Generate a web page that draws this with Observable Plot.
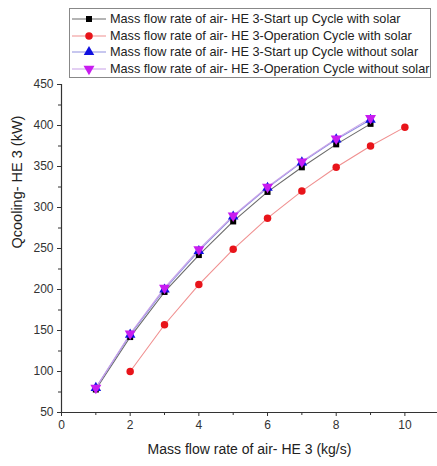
<!DOCTYPE html>
<html>
<head>
<meta charset="utf-8">
<script src="https://cdn.jsdelivr.net/npm/d3@7"></script>
<script src="https://cdn.jsdelivr.net/npm/@observablehq/plot@0.6"></script>
<style>
  html, body { margin: 0; padding: 0; background: #fff; }
  #wrap { position: relative; width: 437px; height: 466px; font-family: "Liberation Sans", Arial, sans-serif; }
  #legend { position: absolute; left: 69px; top: 8px; width: 362px; height: 70px; border: 1px solid #888; background: #fff; box-sizing: border-box; padding-top: 2px; }
  .row { display: flex; align-items: center; height: 16.5px; font-size: 12.7px; color: #222; white-space: nowrap; }
  .row svg { flex: none; margin-left: 2px; margin-right: 4px; }
</style>
</head>
<body>
<div id="wrap"></div>
<script>
const startWithSolarX = [1, 2, 3, 4, 5, 6, 7, 8, 9];
const startWithSolar = [78, 142, 197, 242, 283, 319, 349, 377, 402];
const operWithSolarX = [2, 3, 4, 5, 6, 7, 8, 9, 10];
const operWithSolar = [100, 157, 206, 249, 287, 320, 349, 375, 398];
const startNoSolarX = [1, 2, 3, 4, 5, 6, 7, 8, 9];
const startNoSolar = [80, 145, 200, 247, 289, 324, 355, 383, 407];
const operNoSolarX = [1, 2, 3, 4, 5, 6, 7, 8, 9];
const operNoSolar = [80, 146, 202, 249, 290, 325, 356, 384, 409];
const seriesNames = [
  "Mass flow rate of air- HE 3-Start up Cycle with solar",
  "Mass flow rate of air- HE 3-Operation Cycle with solar",
  "Mass flow rate of air- HE 3-Start up Cycle without solar",
  "Mass flow rate of air- HE 3-Operation Cycle without solar"
];
const xTicks = [0, 2, 4, 6, 8, 10];
const xMinor = [1, 3, 5, 7, 9];
const yTicks = [50, 100, 150, 200, 250, 300, 350, 400, 450];
const yMinor = [75, 125, 175, 225, 275, 325, 375, 425];
const xTitle = "Mass flow rate of air- HE 3 (kg/s)";
const yTitle = "Qcooling- HE 3 (kW)";

const colors = ["#000000", "#e8141a", "#1010e0", "#c81cf0"];
const lineColors = ["#6a6a6a", "#f09090", "#9090e0", "#c8a0e8"];

const triangleDown = {
  draw(ctx, size) {
    const y = -Math.sqrt(size / (Math.sqrt(3) * 3));
    const s3 = Math.sqrt(3);
    ctx.moveTo(0, -y * 2);
    ctx.lineTo(-s3 * y, y);
    ctx.lineTo(s3 * y, y);
    ctx.closePath();
  }
};
const symbols = [d3.symbolSquare, d3.symbolCircle, d3.symbolTriangle, triangleDown];
const sizes = [36, 44, 48, 52];

const xs = [startWithSolarX, operWithSolarX, startNoSolarX, operNoSolarX];
const ys = [startWithSolar, operWithSolar, startNoSolar, operNoSolar];
const series = ys.map((vals, i) => vals.map((v, j) => ({x: xs[i][j], y: v, s: i})));

const marks = [];
series.forEach((d, i) => {
  marks.push(Plot.line(d, {x: "x", y: "y", stroke: lineColors[i], strokeWidth: 1.1, curve: "linear"}));
});
series.forEach((d, i) => {
  marks.push(Plot.dot(d, {x: "x", y: "y", symbol: () => symbols[i], r: Math.sqrt(sizes[i] / Math.PI), fill: colors[i], stroke: "none"}));
});

const chart = Plot.plot({
  width: 437,
  height: 466,
  marginTop: 84,
  marginBottom: 54,
  marginLeft: 61,
  marginRight: 0,
  style: {fontFamily: "'Liberation Sans', Arial, sans-serif", color: "#222", background: "#fff"},
  x: {domain: [0, 10.95]},
  y: {domain: [50, 450]},
  symbol: {type: "identity"},
  marks: [
    ...marks,
    Plot.ruleY([50], {stroke: "#333", strokeWidth: 1.2}),
    Plot.ruleX([0], {stroke: "#333", strokeWidth: 1.2}),
    Plot.axisX(xTicks, {tickSize: 4, tickPadding: 4, fontSize: 12, stroke: "#333", label: null, color: "#333"}),
    Plot.axisX(xMinor, {tickSize: 3, text: null, stroke: "#333", label: null}),
    Plot.axisY(yTicks, {tickSize: 4, tickPadding: 4, fontSize: 12, stroke: "#333", label: null, color: "#333"}),
    Plot.axisY(yMinor, {tickSize: 3, text: null, stroke: "#333", label: null}),
    Plot.text([xTitle], {frameAnchor: "bottom", dy: 41, fontSize: 14, fill: "#222"}),
    Plot.text([yTitle], {frameAnchor: "left", dx: -44, rotate: -90, fontSize: 14.5, fill: "#222"})
  ]
});

const wrap = document.getElementById("wrap");
wrap.appendChild(chart);

const legend = document.createElement("div");
legend.id = "legend";
seriesNames.forEach((name, i) => {
  const row = document.createElement("div");
  row.className = "row";
  const svg = d3.create("svg").attr("width", 34).attr("height", 14);
  svg.append("line").attr("x1", 0).attr("x2", 34).attr("y1", 7).attr("y2", 7).attr("stroke", lineColors[i]).attr("stroke-width", 1.2);
  svg.append("path").attr("d", d3.symbol(symbols[i], sizes[i])()).attr("transform", "translate(17,7)").attr("fill", colors[i]);
  row.appendChild(svg.node());
  const span = document.createElement("span");
  span.textContent = name;
  row.appendChild(span);
  legend.appendChild(row);
});
wrap.appendChild(legend);
</script>
</body>
</html>
